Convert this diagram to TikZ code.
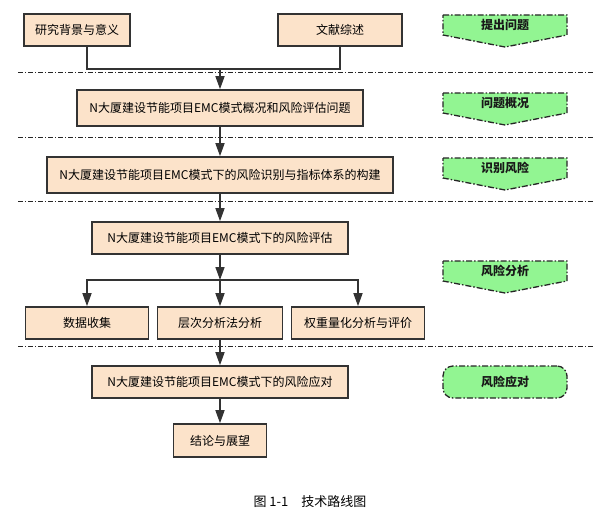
\documentclass[tikz,border=0pt]{standalone}
\usepackage{fontspec}
\setmainfont{Noto Sans CJK SC}
\usetikzlibrary{arrows.meta}
\definecolor{peach}{HTML}{FCE3CA}
\definecolor{mint}{HTML}{92F592}
\tikzset{
  proc/.style={draw=black!80, line width=1.6pt, fill=peach, minimum height=32pt,
    inner sep=0pt, font=\fontsize{12}{12}\selectfont},
  link/.style={line width=1.5pt, draw=black!80},
  tip/.style={link, -{Triangle[length=13pt,width=9pt]}},
  sep/.style={line width=0.7pt, draw=black!85, dash pattern=on 5pt off 2pt on 1pt off 2pt},
  banner/.style={draw=black!85, fill=mint, line width=1.3pt,
    dash pattern=on 6pt off 2pt on 1.5pt off 2pt},
  tag/.style={font=\fontsize{12}{12}\selectfont\bfseries, text=black!90}
}
\begin{document}
\begin{tikzpicture}[x=1pt,y=-1pt]
  \useasboundingbox (0,0) rectangle (612,519);
  \foreach \y in {72,137,201,346}
    \draw[sep] (18,\y) -- (593,\y);
  \node[proc, minimum width=106pt] (bg) at (77,30) {研究背景与意义};
  \node[proc, minimum width=124pt] (lit) at (340,30) {文献综述};
  \node[proc, minimum width=286pt, minimum height=36pt] (gk) at (220,108) {N大厦建设节能项目EMC模式概况和风险评估问题};
  \node[proc, minimum width=346pt, minimum height=36pt] (sb) at (220,175) {N大厦建设节能项目EMC模式下的风险识别与指标体系的构建};
  \node[proc, minimum width=256pt] (pg) at (220,238) {N大厦建设节能项目EMC模式下的风险评估};
  \node[proc, minimum width=123pt] (sj) at (87,323) {数据收集};
  \node[proc, minimum width=125pt] (ahp) at (220,323) {层次分析法分析};
  \node[proc, minimum width=133pt] (qz) at (358,323) {权重量化分析与评价};
  \node[proc, minimum width=256pt] (yd) at (220,382) {N大厦建设节能项目EMC模式下的风险应对};
  \node[proc, minimum width=93pt, minimum height=33pt] (jl) at (220,440.5) {结论与展望};
  \coordinate (m1) at (220,69);
  \coordinate (fork) at (220,280);
  \draw[link] ([xshift=10pt]bg.south) |- (m1) -| (lit.south);
  \draw[tip] (m1) -- (gk.north);
  \draw[tip] (gk.south) -- (sb.north);
  \draw[tip] (sb.south) -- (pg.north);
  \draw[tip] (pg.south) -- (fork);
  \draw[tip] (fork) -| (sj.north);
  \draw[tip] (fork) -- (ahp.north);
  \draw[tip] (fork) -| (qz.north);
  \draw[tip] (ahp.south) -- (yd.north);
  \draw[tip] (yd.south) -- (jl.north);
  \foreach \y/\lbl/\n in {25/提出问题/s1,103/问题概况/s2,168/识别风险/s3,271/风险分析/s4}{
    \draw[banner] (443,\y-10) -- (567,\y-10) -- (567,\y+10) -- (505,\y+22) -- (443,\y+10) -- cycle;
    \node[tag] (\n) at (505,\y) {\lbl};
  }
  \node[tag, banner, rounded corners=10pt, minimum width=124pt, minimum height=32pt] (s5) at (505,382) {风险应对};
  \node[font=\fontsize{13}{13}\selectfont] (cap) at (310,502) {图 1-1\hspace{1em}技术路线图};
\end{tikzpicture}
\end{document}
